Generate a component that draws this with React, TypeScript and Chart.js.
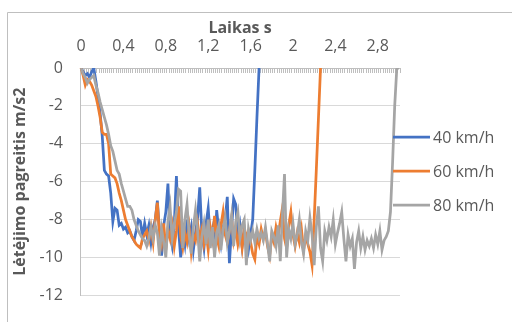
import React, { useEffect, useRef } from "react";
import { Chart, registerables } from "chart.js";

Chart.register(...registerables);

// Time categories: 0 .. 3.0 s in 0.02 s steps
const TIME_STEP = 0.02;
const N_POINTS = 151;
const times: string[] = Array.from({ length: N_POINTS }, (_, i) => (i * TIME_STEP).toFixed(2));

const X_TICK_LABELS = ["0", "0,4", "0,8", "1,2", "1,6", "2", "2,4", "2,8"];
const X_LABEL_EVERY = 20;

const Y_MIN = -12;
const Y_MAX = 0;
const Y_STEP = 2;

const SERIES_LABELS = ["40 km/h", "60 km/h", "80 km/h"];
const SERIES_COLORS = ["#4472C4", "#ED7D31", "#A5A5A5"];

const v40: number[] = [
  0, -0.2, -0.4, -0.3, -0.5, -0.2, 0, -0.7, -1.5, -2.4,
  -3.6, -5.4, -5.6, -5.7, -6.6, -8.1, -7.4, -7.5, -8.3, -8.2,
  -8.5, -8.4, -8.7, -8.6, -8.9, -9.1, -8.6, -8.0, -8.1, -8.9,
  -8.2, -8.8, -8.3, -9.2, -8.4, -8.0, -7.0, -8.6, -9.9, -8.3,
  -7.6, -6.1, -8.8, -9.4, -8.2, -5.7, -8.5, -10.0, -8.6, -9.3,
  -8.0, -9.0, -8.4, -9.6, -8.7, -7.9, -6.3, -8.7, -9.5, -8.2,
  -7.4, -9.0, -8.5, -9.7, -7.5, -8.6, -9.3, -8.4, -8.0, -6.8,
  -10.3, -8.5, -6.9, -7.2, -9.0, -8.3, -9.4, -8.6, -9.0, -9.6,
  -8.8, -8.0, -5.4, -2.6, 0,
];

const v60: number[] = [
  0, -0.4, -0.9, -0.6, -0.7, -0.9, -1.2, -1.5, -2.0, -2.6,
  -3.4, -3.5, -3.5, -4.0, -5.6, -5.7, -5.8, -6.1, -6.6, -7.0,
  -7.5, -8.0, -8.3, -8.6, -8.9, -9.1, -9.3, -9.4, -9.5, -9.0,
  -8.8, -8.6, -9.1, -8.4, -9.2, -8.0, -7.1, -8.8, -9.3, -8.2,
  -9.6, -8.5, -9.0, -8.3, -9.4, -8.6, -7.3, -8.9, -9.5, -8.7,
  -9.2, -8.4, -9.7, -8.8, -9.1, -8.2, -9.0, -8.5, -9.3, -8.7,
  -9.6, -8.4, -9.0, -7.8, -8.9, -9.4, -8.3, -7.6, -8.8, -9.2,
  -8.6, -7.9, -9.1, -8.5, -9.3, -8.7, -9.5, -8.4, -9.0, -8.6,
  -9.2, -9.8, -10.1, -8.9, -9.3, -8.5, -9.0, -8.6, -9.4, -9.9,
  -8.8, -9.2, -8.4, -8.9, -8.1, -7.4, -9.0, -9.5, -8.3, -7.6,
  -8.8, -9.4, -8.7, -9.2, -8.5, -9.6, -8.9, -9.3, -9.7, -10.4,
  -8.0, -5.4, -2.7, 0,
];

const v80: number[] = [
  0, -0.3, -0.5, -0.8, -0.6, -0.5, -0.4, -0.9, -1.3, -1.8,
  -2.2, -2.6, -3.0, -3.5, -4.1, -4.4, -4.9, -5.4, -5.6, -6.1,
  -6.5, -6.9, -7.3, -7.3, -7.5, -8.0, -8.3, -8.6, -8.8, -9.0,
  -9.1, -9.4, -9.0, -8.4, -9.0, -8.3, -8.7, -9.9, -8.5, -9.2,
  -10.0, -8.1, -7.3, -9.0, -8.2, -7.6, -6.4, -6.5, -9.5, -8.0,
  -7.2, -8.8, -9.8, -8.4, -7.5, -8.6, -10.2, -8.9, -8.2, -9.3,
  -8.0, -9.5, -8.4, -10.0, -8.7, -8.3, -9.6, -8.5, -7.9, -9.2,
  -8.6, -7.8, -9.4, -8.1, -7.6, -9.0, -8.3, -8.0, -10.4, -8.5,
  -9.1, -8.6, -9.2, -8.5, -9.0, -8.7, -9.1, -8.4, -9.3, -10.2,
  -8.6, -8.9, -9.4, -8.3, -10.2, -7.8, -5.6, -10.0, -8.5, -9.0,
  -8.2, -9.3, -8.8, -8.0, -9.2, -9.8, -8.6, -9.1, -7.9, -8.8,
  -10.4, -8.4, -7.3, -9.5, -10.2, -8.6, -9.1, -8.4, -8.9, -8.0,
  -9.3, -8.7, -8.2, -7.6, -9.0, -10.2, -8.8, -9.4, -9.0, -10.6,
  -9.2, -8.6, -9.5, -8.9, -9.6, -9.1, -9.4, -9.0, -9.5, -8.8,
  -9.3, -8.6, -9.6, -9.1, -8.9, -8.6, -7.6, -5.0, -2.0, 0,
  0,
];

const FONT = "'Open Sans', 'Liberation Sans', sans-serif";
const FONT_SIZE = 16;
const TEXT_COLOR = "#595959";

const frameAndLegend = {
  id: "frameAndLegend",
  beforeDraw(chart: any) {
    const ctx = chart.ctx;
    ctx.save();
    ctx.fillStyle = "#ffffff";
    ctx.fillRect(0, 0, chart.width, chart.height);
    ctx.strokeStyle = "#bfbfbf";
    ctx.lineWidth = 1;
    ctx.beginPath();
    ctx.moveTo(7.5, chart.height);
    ctx.lineTo(7.5, 12.5);
    ctx.lineTo(chart.width, 12.5);
    ctx.stroke();
    ctx.restore();
  },
  afterDraw(chart: any) {
    const ctx = chart.ctx;
    const area = chart.chartArea;
    ctx.save();
    const lineX0 = area.right - 7;
    const lineX1 = lineX0 + 37;
    const y0 = 137;
    const gap = 34;
    ctx.font = `${FONT_SIZE}px ${FONT}`;
    ctx.textBaseline = "middle";
    ctx.textAlign = "left";
    chart.data.datasets.forEach((ds: any, i: number) => {
      const y = y0 + i * gap;
      ctx.strokeStyle = ds.borderColor;
      ctx.lineWidth = 2.75;
      ctx.beginPath();
      ctx.moveTo(lineX0, y);
      ctx.lineTo(lineX1, y);
      ctx.stroke();
      ctx.fillStyle = TEXT_COLOR;
      ctx.fillText(ds.label, lineX1 + 3, y + 1);
    });
    ctx.restore();
  },
};

export default function App() {
  const canvasRef = useRef<HTMLCanvasElement | null>(null);

  useEffect(() => {
    document.body.style.margin = "0";
    const canvas = canvasRef.current;
    if (!canvas) return;
    const seriesValues = [v40, v60, v80];
    const chart = new Chart(canvas, {
      type: "line",
      data: {
        labels: times,
        datasets: SERIES_LABELS.map((label, i) => ({
          label,
          data: seriesValues[i],
          borderColor: SERIES_COLORS[i],
          backgroundColor: SERIES_COLORS[i],
          borderWidth: 2.75,
          pointRadius: 0,
          tension: 0,
          fill: false,
          order: SERIES_LABELS.length - i,
        })),
      },
      options: {
        animation: false,
        responsive: false,
        maintainAspectRatio: false,
        devicePixelRatio: 1,
        layout: { padding: { left: 0, top: 0, right: 112, bottom: 26 } },
        plugins: {
          legend: { display: false },
          tooltip: { enabled: false },
        },
        scales: {
          x: {
            type: "category",
            position: "top",
            offset: true,
            afterFit(scale: any) {
              scale.height = 68;
            },
            border: { display: true, color: "#bfbfbf", width: 1 },
            grid: {
              display: true,
              drawOnChartArea: false,
              drawTicks: true,
              tickLength: -5,
              offset: true,
              color: "#bfbfbf",
              lineWidth: 1,
            },
            ticks: {
              autoSkip: false,
              maxRotation: 0,
              minRotation: 0,
              padding: 17,
              color: TEXT_COLOR,
              font: { family: FONT, size: FONT_SIZE },
              callback: (_v: any, index: number) =>
                index % X_LABEL_EVERY === 0 ? X_TICK_LABELS[index / X_LABEL_EVERY] ?? "" : "",
            },
            title: {
              display: true,
              text: "Laikas s",
              color: TEXT_COLOR,
              font: { family: FONT, size: FONT_SIZE, weight: "bold" },
              padding: { top: 19, bottom: 0 },
            },
          },
          y: {
            min: Y_MIN,
            max: Y_MAX,
            afterFit(scale: any) {
              scale.width = 80;
            },
            border: { display: true, color: "#bfbfbf", width: 1 },
            grid: {
              color: "#d9d9d9",
              lineWidth: 1,
              drawTicks: false,
            },
            ticks: {
              stepSize: Y_STEP,
              padding: 17,
              color: TEXT_COLOR,
              font: { family: FONT, size: FONT_SIZE },
            },
            title: {
              display: true,
              text: "Lėtėjimo pagreitis m/s2",
              color: TEXT_COLOR,
              font: { family: FONT, size: FONT_SIZE, weight: "bold" },
              padding: { top: 11, bottom: 0 },
            },
          },
        },
      },
      plugins: [frameAndLegend],
    });
    return () => chart.destroy();
  }, []);

  return (
    <div style={{ position: "fixed", left: 0, top: 0, width: 512, height: 322 }}>
      <canvas ref={canvasRef} width={512} height={322} style={{ width: 512, height: 322, display: "block" }} />
    </div>
  );
}
